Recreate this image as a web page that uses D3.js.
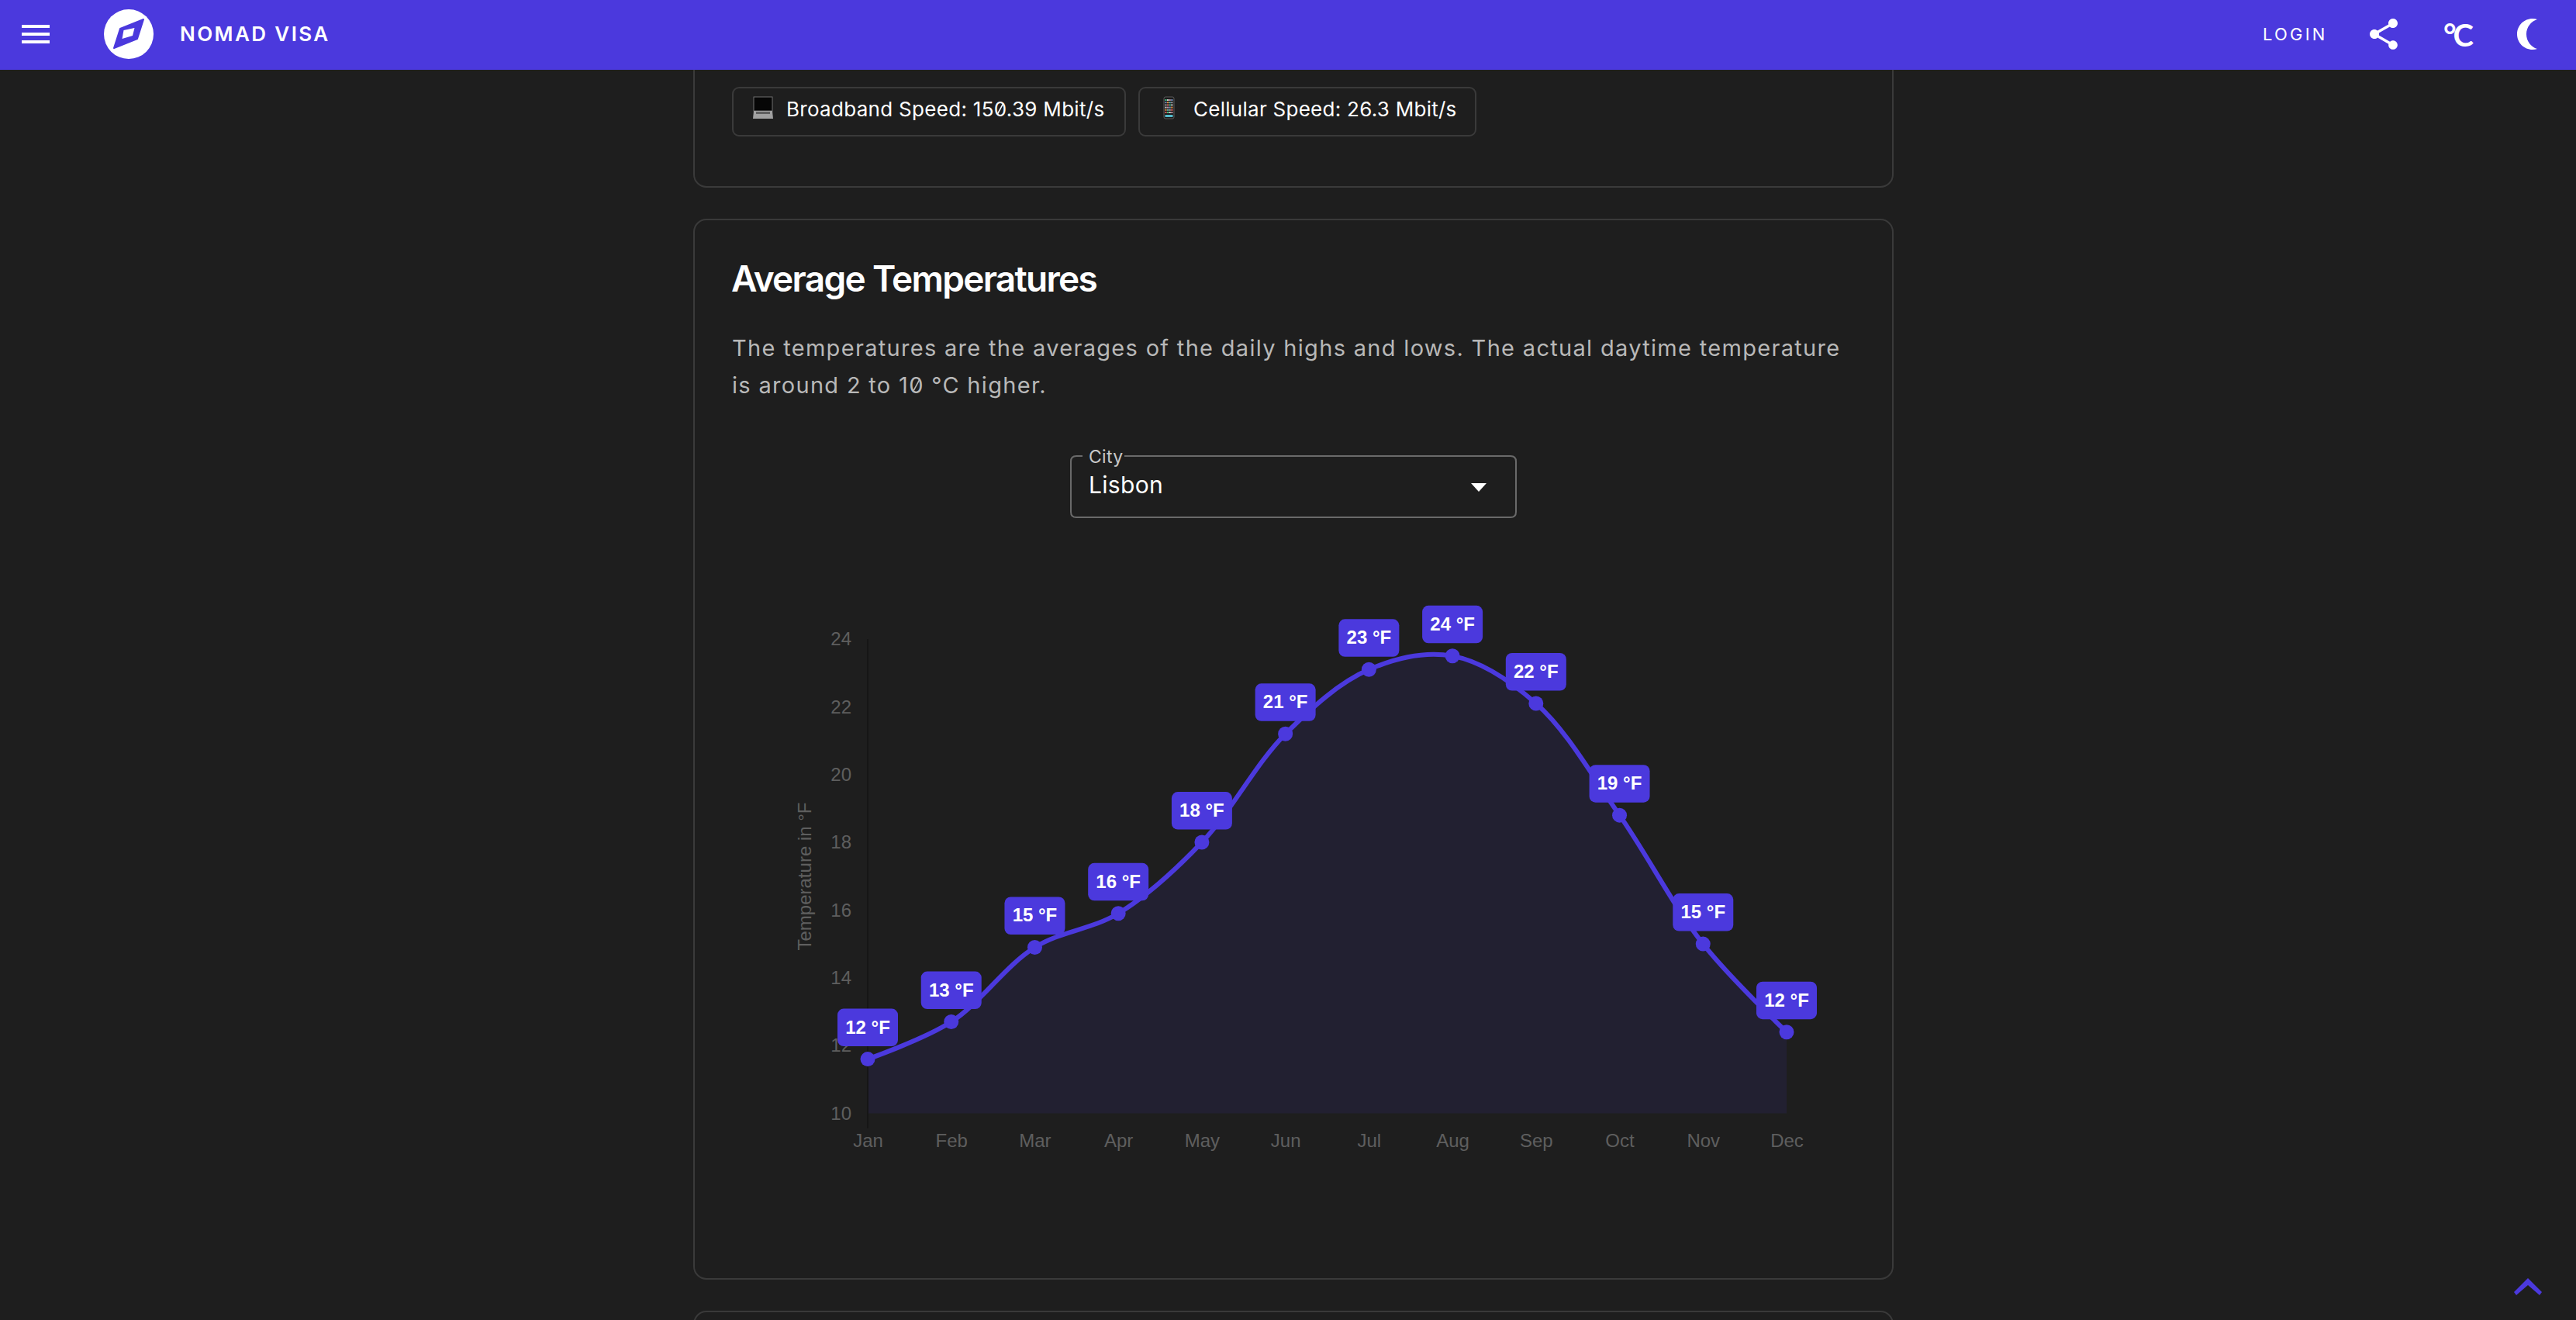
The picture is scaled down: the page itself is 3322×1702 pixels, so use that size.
<!DOCTYPE html>
<html>
<head>
<meta charset="utf-8">
<title>Average Temperatures</title>
<script src="https://cdn.jsdelivr.net/npm/d3@7"></script>
<style>
    html, body { margin: 0; background: #1e1e1e; overflow: hidden; }
    svg { display: block; }
    .ui { font-family: Inter, "Noto Sans", sans-serif; }
    .chart text { font-family: "Liberation Sans", Arial, sans-serif; }
</style>
</head>
<body>
<div id="page"></div>
<script>
const months = ["Jan", "Feb", "Mar", "Apr", "May", "Jun", "Jul", "Aug", "Sep", "Oct", "Nov", "Dec"];
const temps = [11.6, 12.7, 14.9, 15.9, 18.0, 21.2, 23.1, 23.5, 22.1, 18.8, 15.0, 12.4];
const yTicks = [10, 12, 14, 16, 18, 20, 22, 24];
const speedLabels = ["Broadband Speed: 150.39 Mbit/s", "Cellular Speed: 26.3 Mbit/s"];
const textLines = [
    "The temperatures are the averages of the daily highs and lows. The actual daytime temperature",
    "is around 2 to 10 °C higher."
];

const purple = "#4b39dd";
const border = "#3a3a3a";
const width = 3322;
const height = 1702;

const svg = d3.select("#page").append("svg")
    .attr("width", width)
    .attr("height", height);
const ui = svg.append("g").attr("class", "ui");

function box(parent, x, y, w, h, r, stroke, sw) {
    return parent.append("rect")
        .attr("x", x).attr("y", y)
        .attr("width", w).attr("height", h)
        .attr("rx", r).attr("ry", r)
        .attr("fill", "none")
        .attr("stroke", stroke)
        .attr("stroke-width", sw);
}

function label(parent, str, x, y, size, color, weight, spacing) {
    return parent.append("text")
        .attr("x", x).attr("y", y)
        .attr("font-size", size)
        .attr("font-weight", weight || 400)
        .attr("letter-spacing", spacing || 0)
        .attr("fill", color)
        .text(str);
}

// the site font has a slashed zero, the installed one does not
function slashZeros(sel, color) {
    const node = sel.node();
    const str = sel.text();
    for (let i = 0; i < str.length; i++) {
        if (str[i] !== "0") continue;
        const e = node.getExtentOfChar(i);
        const mid = e.x + e.width / 2;
        const base = +sel.attr("y");
        const size = +sel.attr("font-size");
        ui.append("line")
            .attr("x1", mid - size * 0.13).attr("y1", base - size * 0.12)
            .attr("x2", mid + size * 0.13).attr("y2", base - size * 0.6)
            .attr("stroke", color)
            .attr("stroke-width", 1.6);
    }
}

// cards
box(ui, 895, -40, 1546, 281, 16, border, 2);
box(ui, 895, 283, 1546, 1366, 16, border, 2);
box(ui, 895, 1691, 1546, 200, 16, border, 2);

// speed chips
box(ui, 945, 113, 506, 62, 8, border, 2);
box(ui, 1469, 113, 434, 62, 8, border, 2);
speedLabels.forEach((s, i) => {
    slashZeros(label(ui, s, i ? 1539 : 1014, 150, 26, "#ffffff", 400, i ? 0.27 : 0.3), "#ffffff");
});

// laptop emoji
ui.append("rect").attr("x", 972).attr("y", 125).attr("width", 24).attr("height", 18).attr("fill", "#060606").attr("stroke", "#6e6e6e");
ui.append("path").attr("d", "M972 143 H996 L997 153 H971 Z").attr("fill", "#a0a0a0");
ui.append("rect").attr("x", 975).attr("y", 144).attr("width", 18).attr("height", 3).attr("fill", "#5e5e5e");
// phone emoji
ui.append("rect").attr("x", 1501).attr("y", 125).attr("width", 13).attr("height", 28).attr("rx", 2).attr("fill", "#1a1a1a").attr("stroke", "#5a5a5a");
const iconColors = ["#4c8", "#ddd", "#c9a", "#79c", "#e94", "#6bb", "#aaa", "#e66"];
d3.range(6).forEach(row => {
    d3.range(4).forEach(col => {
        ui.append("rect")
            .attr("x", 1502.5 + col * 2.6).attr("y", 128 + row * 3.2)
            .attr("width", 2).attr("height", 2)
            .attr("fill", iconColors[(row * 3 + col) % iconColors.length]);
    });
});
ui.append("rect").attr("x", 1502.5).attr("y", 148).attr("width", 10).attr("height", 3).attr("fill", "#5bc");

// card text
label(ui, "Average Temperatures", 943, 376, 46, "#ffffff", 600, -1.7);
textLines.forEach((line, i) => {
    slashZeros(label(ui, line, 944, 459 + i * 48, 29, "#b8b8b8", 400, 1.31), "#b8b8b8");
});

// city select
ui.append("path")
    .attr("d", "M1396 588 H1388 Q1381 588 1381 595 V660 Q1381 667 1388 667 H1948 Q1955 667 1955 660 V595 Q1955 588 1948 588 H1450")
    .attr("fill", "none").attr("stroke", "#6a6a6a").attr("stroke-width", 2);
label(ui, "City", 1404, 597, 23, "#c8c8c8", 400, 0.3);
label(ui, "Lisbon", 1404, 636, 30, "#ffffff", 400, 0.3);
ui.append("path").attr("d", "M1897 623 H1917 L1907 634 Z").attr("fill", "#ffffff");

// ---- chart ----
const x = d3.scalePoint().domain(months).range([1119, 2304]);
const y = d3.scaleLinear().domain([10, 24]).range([1435.5, 824]);
const chart = svg.append("g").attr("class", "chart");

const area = d3.area()
    .x((d, i) => x(months[i]))
    .y0(y(10))
    .y1(d => y(d))
    .curve(d3.curveCatmullRom.alpha(0.5));
const line = d3.line()
    .x((d, i) => x(months[i]))
    .y(d => y(d))
    .curve(d3.curveCatmullRom.alpha(0.5));

chart.append("path").datum(temps)
    .attr("d", area)
    .attr("fill", purple)
    .attr("fill-opacity", 0.1);

const yAxis = d3.axisLeft(y).tickValues(yTicks).tickSize(0).tickPadding(21);
const xAxis = d3.axisBottom(x).tickSize(0).tickPadding(26);

const yAxisG = chart.append("g").attr("transform", `translate(${x(months[0])},0)`).call(yAxis);
yAxisG.select(".domain").remove();
yAxisG.append("line")
    .attr("y1", y(24)).attr("y2", 1455)
    .attr("stroke", "#161616").attr("stroke-width", 2);
yAxisG.selectAll(".tick text").attr("fill", "#5e5e5e").attr("font-size", 24);

const xAxisG = chart.append("g").attr("transform", `translate(0,${y(10)})`).call(xAxis);
xAxisG.select(".domain").remove();
xAxisG.selectAll(".tick text").attr("fill", "#5e5e5e").attr("font-size", 24);

chart.append("text")
    .attr("transform", "translate(1046,1130) rotate(-90)")
    .attr("text-anchor", "middle")
    .attr("font-size", 24)
    .attr("fill", "#5e5e5e")
    .text("Temperature in °F");

chart.append("path").datum(temps)
    .attr("d", line)
    .attr("fill", "none")
    .attr("stroke", purple)
    .attr("stroke-width", 6);

chart.selectAll("circle.dot")
    .data(temps)
    .enter()
    .append("circle")
    .attr("class", "dot")
    .attr("cx", (d, i) => x(months[i]))
    .attr("cy", d => y(d))
    .attr("r", 9.5)
    .attr("fill", purple);

const labelW = 78, labelH = 48.5;
const tags = chart.selectAll("g.tag")
    .data(temps)
    .enter()
    .append("g")
    .attr("class", "tag")
    .attr("transform", (d, i) => `translate(${x(months[i])},${y(d) - 16.5 - labelH})`);
tags.append("rect")
    .attr("x", -labelW / 2)
    .attr("width", labelW)
    .attr("height", labelH)
    .attr("rx", 8)
    .attr("fill", purple);
tags.append("text")
    .attr("text-anchor", "middle")
    .attr("y", 32)
    .attr("font-size", 24)
    .attr("font-weight", 700)
    .attr("fill", "#ffffff")
    .text(d => `${Math.round(d)} °F`);

// ---- app bar ----
const bar = svg.append("g").attr("class", "ui");
bar.append("rect").attr("width", width).attr("height", 90).attr("fill", purple);
[32, 42, 52].forEach(top => {
    bar.append("rect").attr("x", 28).attr("y", top).attr("width", 36).attr("height", 4).attr("fill", "#fff");
});
bar.append("circle").attr("cx", 166).attr("cy", 44).attr("r", 32).attr("fill", "#fff");
bar.append("path").attr("d", "M185 25 L155 37 L147 62 L177 50 Z")
    .attr("fill", purple).attr("stroke", purple).attr("stroke-width", 2).attr("stroke-linejoin", "round");
bar.append("path").attr("d", "M173.5 36 L159.5 39 L157.5 50 L171 46 Z").attr("fill", "#fff");
label(bar, "NOMAD VISA", 232, 53, 26, "#ffffff", 600, 2.4);
label(bar, "LOGIN", 2918, 52, 22, "#ffffff", 400, 3.2);
bar.append("path")
    .attr("transform", "translate(3050,20) scale(2)")
    .attr("fill", "#fff")
    .attr("d", "M18 16.08c-.76 0-1.44.3-1.96.77L8.91 12.7c.05-.23.09-.46.09-.7s-.04-.47-.09-.7l7.05-4.11c.54.5 1.25.81 2.04.81 1.66 0 3-1.34 3-3s-1.34-3-3-3-3 1.34-3 3c0 .24.04.47.09.7L8.04 9.81C7.5 9.31 6.79 9 6 9c-1.66 0-3 1.34-3 3s1.34 3 3 3c.79 0 1.5-.31 2.04-.81l7.12 4.16c-.05.21-.08.43-.08.65 0 1.61 1.31 2.92 2.92 2.92 1.61 0 2.92-1.31 2.92-2.92s-1.31-2.92-2.92-2.92z");
label(bar, "°C", 3151, 60, 40, "#ffffff", 700, -4).attr("font-family", "Lato");
bar.append("path")
    .attr("transform", "translate(3284,20) scale(-2,2)")
    .attr("fill", "#fff")
    .attr("d", "M9 2c-1.05 0-2.05.16-3 .46 4.06 1.27 7 5.06 7 9.54 0 4.48-2.94 8.27-7 9.54.95.3 1.95.46 3 .46 5.52 0 10-4.48 10-10S14.52 2 9 2z");

// scroll to top chevron
svg.append("path")
    .attr("d", "M3260 1648 L3278 1666 L3275 1670 L3260 1657 L3245 1670 L3242 1666 Z")
    .attr("fill", purple);
</script>
</body>
</html>
